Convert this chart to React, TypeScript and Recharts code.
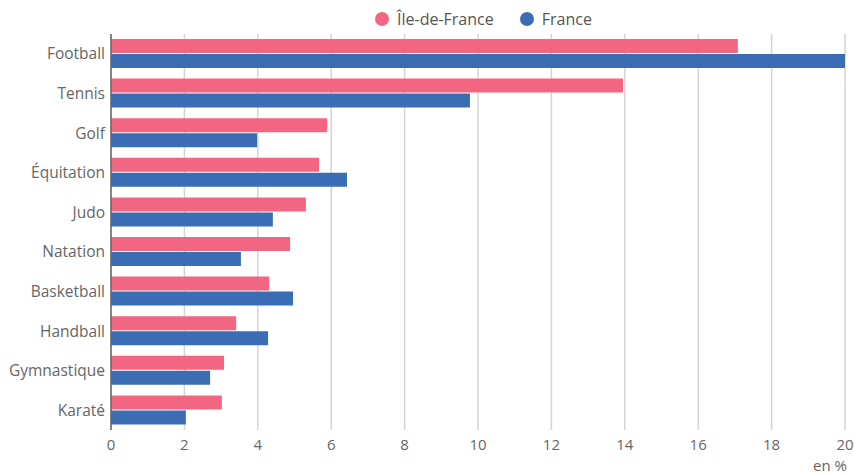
import React from 'react'
import { BarChart, Bar, XAxis, YAxis, CartesianGrid, Label } from 'recharts'

const sports = [
  'Football',
  'Tennis',
  'Golf',
  'Équitation',
  'Judo',
  'Natation',
  'Basketball',
  'Handball',
  'Gymnastique',
  'Karaté',
]
const idf = [17.08, 13.95, 5.89, 5.67, 5.31, 4.88, 4.31, 3.41, 3.08, 3.02]
const france = [20.0, 9.78, 3.98, 6.43, 4.41, 3.54, 4.96, 4.28, 2.7, 2.04]
const xTicks = [0, 2, 4, 6, 8, 10, 12, 14, 16, 18, 20]

const PINK = '#f26682'
const BLUE = '#3a6db4'
const FONT = '"Open Sans", sans-serif'

const data = sports.map((sport, i) => ({ sport, idf: idf[i], france: france[i] }))

function ChartLegend() {
  const items = [
    { label: 'Île-de-France', color: PINK },
    { label: 'France', color: BLUE },
  ]
  return (
    <div
      style={{
        position: 'absolute',
        top: 8,
        left: 375,
        display: 'flex',
        gap: 26,
        fontFamily: FONT,
      }}
    >
      {items.map((it) => (
        <div key={it.label} style={{ display: 'flex', alignItems: 'center', gap: 8 }}>
          <span style={{ width: 14, height: 14, borderRadius: '50%', background: it.color, display: 'inline-block' }} />
          <span style={{ fontSize: 16, color: '#555', lineHeight: '22px' }}>{it.label}</span>
        </div>
      ))}
    </div>
  )
}

export default function App() {
  return (
    <div style={{ position: 'absolute', left: 0, top: 0, width: 854, height: 475, background: '#fff' }}>
      <BarChart
        width={854}
        height={475}
        data={data}
        layout="vertical"
        margin={{ top: 34, right: 9, bottom: 0, left: 0 }}
        barSize={14}
        barGap={1}
      >
        <CartesianGrid horizontal={false} stroke="#d4d4d4" strokeWidth={1.5} />
        <XAxis
          type="number"
          domain={[0, 20]}
          ticks={xTicks}
          height={45}
          axisLine={false}
          tickLine={false}
          tickSize={7}
          tick={{ fontSize: 15, fill: '#666', fontFamily: FONT }}
        >
          <Label
            value="en %"
            position="insideBottomRight"
            offset={4}
            dx={6}
            style={{ fontSize: 15, fill: '#666', fontFamily: FONT }}
          />
        </XAxis>
        <YAxis
          type="category"
          dataKey="sport"
          width={111}
          axisLine={{ stroke: '#666', strokeWidth: 1.5 }}
          tickLine={false}
          tickSize={0}
          tickMargin={6}
          interval={0}
          tick={{ fontSize: 15.5, fill: '#666', fontFamily: FONT }}
        />
        <Bar dataKey="idf" name="Île-de-France" fill={PINK} isAnimationActive={false} />
        <Bar dataKey="france" name="France" fill={BLUE} isAnimationActive={false} />
      </BarChart>
      <ChartLegend />
    </div>
  )
}
